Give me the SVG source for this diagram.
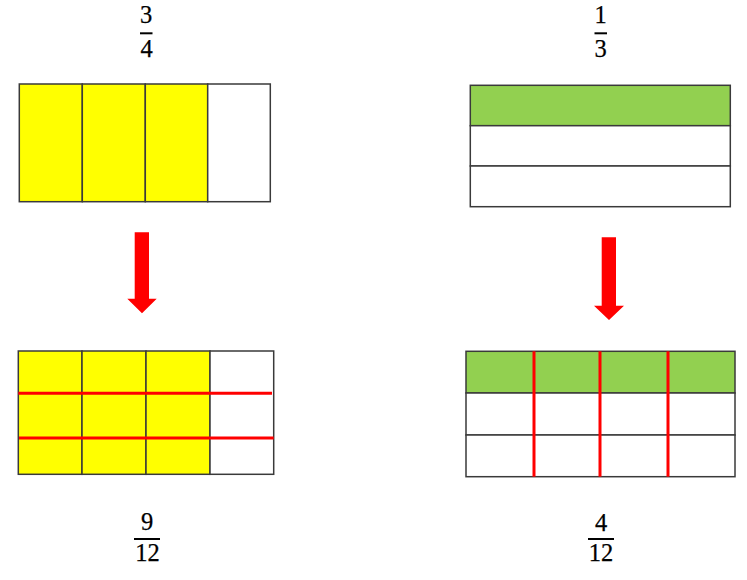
<svg xmlns="http://www.w3.org/2000/svg" width="747" height="580" viewBox="0 0 747 580">
<style>
.box{stroke:#3a3a3a;stroke-width:1.5}
.red{stroke:#ff0000;stroke-width:3;fill:none}
.num{font-family:"Liberation Serif","DejaVu Serif",serif;font-size:24.5px;fill:#000;stroke:#000;stroke-width:0.25;text-anchor:middle}
.bar{stroke:#000;stroke-width:2}
.arrow{fill:#ff0000}
</style>
<rect width="747" height="580" fill="#fff"/>

<g id="frac-3-4">
<text class="num" x="146" y="22.8">3</text>
<line class="bar" x1="140" y1="33.3" x2="152.5" y2="33.3"/>
<text class="num" x="146.5" y="56.7">4</text>
</g>

<g id="box-quarters">
<rect x="19.3" y="84" width="63" height="117.7" fill="#ffff00" class="box"/>
<rect x="82.3" y="84" width="63" height="117.7" fill="#ffff00" class="box"/>
<rect x="145.3" y="84" width="62.4" height="117.7" fill="#ffff00" class="box"/>
<rect x="207.7" y="84" width="62.6" height="117.7" fill="#ffffff" class="box"/>
</g>

<g id="frac-1-3">
<text class="num" x="600.7" y="22.8">1</text>
<line class="bar" x1="594.5" y1="33.3" x2="607" y2="33.3"/>
<text class="num" x="600.7" y="56.7">3</text>
</g>

<g id="box-thirds">
<rect x="470.3" y="85.3" width="260" height="40.4" fill="#92d050" class="box"/>
<rect x="470.3" y="125.7" width="260" height="40.3" fill="#ffffff" class="box"/>
<rect x="470.3" y="166" width="260" height="40.7" fill="#ffffff" class="box"/>
</g>

<g id="connectors">
<polygon class="arrow" points="134.7,232.3 149,232.3 149,298.7 156.7,298.7 142,313.3 127.3,298.7 134.7,298.7"/>
<polygon class="arrow" points="601.7,237.3 616,237.3 616,305.7 624,305.7 609,320 594,305.7 601.7,305.7"/>
</g>

<g id="grid-twelfths-left">
<rect x="18.3" y="351" width="63.7" height="123.3" fill="#ffff00" class="box"/>
<rect x="82" y="351" width="64" height="123.3" fill="#ffff00" class="box"/>
<rect x="146" y="351" width="64" height="123.3" fill="#ffff00" class="box"/>
<rect x="210" y="351" width="63.7" height="123.3" fill="#ffffff" class="box"/>
<line class="red" x1="18.3" y1="393.3" x2="272" y2="393.3"/>
<line class="red" x1="19" y1="438" x2="273.7" y2="438"/>
</g>

<g id="frac-9-12">
<text class="num" x="147" y="530.3">9</text>
<line class="bar" x1="134" y1="539" x2="160" y2="539"/>
<text class="num" x="147.5" y="561.3">12</text>
</g>

<g id="grid-twelfths-right">
<rect x="466" y="351.3" width="269" height="41.7" fill="#92d050" class="box"/>
<rect x="466" y="393" width="269" height="42" fill="#ffffff" class="box"/>
<rect x="466" y="435" width="269" height="41.7" fill="#ffffff" class="box"/>
<line class="red" x1="534" y1="351.3" x2="534" y2="476.7"/>
<line class="red" x1="600" y1="351.3" x2="600" y2="476.7"/>
<line class="red" x1="668" y1="351.3" x2="668" y2="476.7"/>
</g>

<g id="frac-4-12">
<text class="num" x="601" y="530.5">4</text>
<line class="bar" x1="588" y1="539" x2="614" y2="539"/>
<text class="num" x="601" y="561.3">12</text>
</g>
</svg>
